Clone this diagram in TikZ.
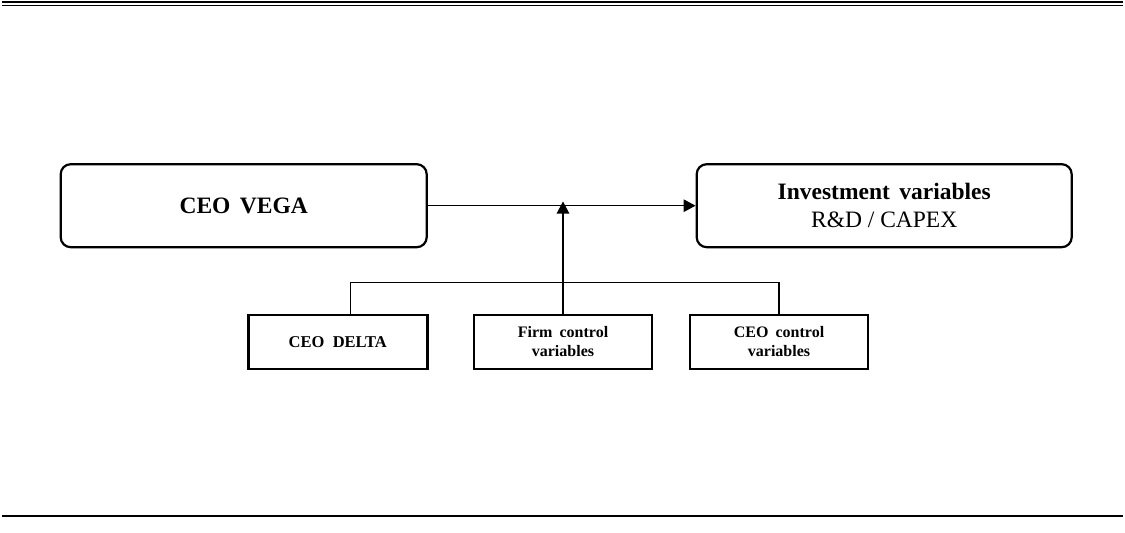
\documentclass[tikz,border=0pt]{standalone}
\usepackage{fontspec}
\setmainfont{Liberation Serif}
\usetikzlibrary{arrows.meta}
\newcommand{\wideword}[1]{\spaceskip=#1\relax}
\begin{document}
\begin{tikzpicture}[x=1pt,y=-1pt,
  bigbox/.style={draw, line width=2.2pt, rounded corners=10pt, minimum width=366pt, minimum height=83pt, inner sep=0pt, align=center},
  smallbox/.style={draw, line width=2.4pt, minimum width=178pt, minimum height=54pt, inner sep=0pt, align=center, font=\fontsize{16}{19}\selectfont\bfseries\wideword{0.45em}},
  conn/.style={line width=1.2pt},
  arr/.style={conn, -{Triangle[width=12.5pt,length=12pt]}}
]
\useasboundingbox (0,0) rectangle (1125,533);
\draw[line width=2.5pt] (2,2) -- (1123,2);
\draw[line width=1.3pt] (2,5.2) -- (1123,5.2);
\draw[line width=2pt] (2,515.5) -- (1123,515.5);

\node[bigbox, font=\fontsize{23.5}{28}\selectfont\bfseries\wideword{0.4em}] (vega) at (243.7,205.7) {CEO VEGA};
\node[bigbox, minimum width=375pt, font=\fontsize{23.5}{28}\selectfont] (inv) at (884.2,205.7) {{\bfseries\wideword{0.4em}Investment variables}\\R\&D / CAPEX};

\node[smallbox, minimum width=179pt, font=\fontsize{16.5}{19}\selectfont\bfseries\wideword{0.5em}] (delta) at (337.8,342) {CEO DELTA};
\node[smallbox] (firm) at (563,342) {Firm control\\variables};
\node[smallbox] (ctrl) at (779,342) {CEO control\\variables};

\draw[arr] (vega.east) -- (inv.west);
\coordinate (tip) at (563,201.5);
\coordinate (join) at (563,282.3);
\draw[arr] (firm.north) -- (tip);
\draw[conn] ([xshift=13pt]delta.north) |- (join) -| (ctrl.north);
\end{tikzpicture}
\end{document}
